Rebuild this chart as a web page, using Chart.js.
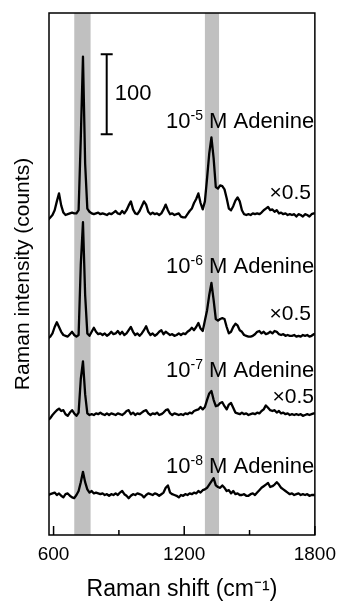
<!DOCTYPE html>
<html>
<head>
<meta charset="utf-8">
<script src="https://cdn.jsdelivr.net/npm/chart.js@4.4.0/dist/chart.umd.min.js"></script>
<style>
  html, body { margin: 0; padding: 0; background: #fff; }
</style>
</head>
<body>
<canvas id="ramanChart" width="344" height="603"></canvas>
<script>
const FONT = "'Liberation Sans', Arial, sans-serif";

// sampling of the Raman shift axis (cm-1): 575, 585, ... 1805
const shifts = Array.from({ length: 124 }, (_, i) => 575 + 10 * i);

// intensities above each trace's own baseline (counts, as displayed)
const adenine5 = [
  -8, -5, -2, 4, 15, 25, 10, 1, -2, -1,
  0, 1, 0, 0, 4, 94, 196, 62, 6, 2,
  0, -1, 0, 1, -1, 0, -1, -2, 0, -1,
  1, 3, 0, -1, 3, 0, 4, 10, 15, 5,
  0, -1, 3, 9, 15, 11, 2, -1, 1, -1,
  0, -2, 0, 5, 11, 4, -1, 0, -2, -1,
  0, -4, -5, -5, -1, 3, 6, 13, 18, 25,
  13, 5, 15, 44, 75, 95, 69, 33, 31, 35,
  34, 30, 19, 6, 4, 9, 16, 20, 15, 4,
  -1, -2, -1, -2, 0, -1, 0, -1, 1, 4,
  6, 8, 4, 5, 2, 4, 0, 1, -1, 0,
  -2, -1, -2, -1, -4, -1, -2, -4, -1, -2,
  -4, -1, 0, 0
];
const adenine6 = [
  -4, -2, 2, 10, 16, 10, 4, 0, -1, -2,
  1, 4, 0, -2, 0, 88, 141, 50, 2, -1,
  4, 9, 4, 1, 2, 0, 2, -1, 1, 4,
  1, 2, 5, 1, 4, 0, 2, 6, 10, 4,
  0, 2, -1, 2, 6, 11, 4, 0, 2, -1,
  1, 4, 6, 1, 4, 2, 0, 1, -1, 0,
  2, 0, 2, 1, 4, 6, 9, 6, 10, 15,
  8, 5, 18, 31, 50, 65, 44, 20, 18, 20,
  21, 20, 10, 2, 4, 10, 14, 12, 6, 4,
  0, -1, -2, -2, -1, 1, 4, 5, 2, 4,
  1, 2, 4, 2, 5, 4, 1, 0, 1, -1,
  0, -1, -1, 0, -2, -1, -2, 0, -1, 0,
  -2, -1, 1, 1
];
const adenine7 = [
  -7, -5, -1, 2, 5, 7, 4, 5, 0, -2,
  2, 5, 1, -2, 2, 44, 66, 25, 1, -1,
  0, -1, 1, 0, 2, 0, -1, 1, -1, 1,
  0, -1, 1, 0, -1, 1, 4, 5, 0, 2,
  -1, 1, 0, 2, 4, 5, 1, -1, 1, 0,
  2, -1, 0, 2, 5, 6, 1, -1, 1, 0,
  -1, 0, -1, 1, 0, 2, 1, 4, 5, 6,
  9, 6, 9, 18, 26, 29, 18, 10, 11, 14,
  15, 10, 6, 12, 14, 8, 2, 1, 0, 2,
  0, 1, -1, 0, 1, 0, 2, 1, 4, 6,
  11, 8, 5, 4, 5, 2, 4, 1, 2, 0,
  1, -1, 0, -1, 0, -1, 0, -2, -1, 0,
  -1, 0, 1, 1
];
const adenine8 = [
  -1, 0, 1, 2, -1, 1, -2, -4, 0, 1,
  -2, -4, -5, -1, 4, 15, 28, 15, 6, 2,
  4, 1, 2, 1, 0, 1, -1, 0, -2, 0,
  -1, 1, -1, 2, 4, 0, -2, -5, -2, 0,
  -1, 1, 0, -1, -4, -1, 1, 0, -1, 1,
  0, -2, 0, 2, 8, 11, 2, 0, -1, -2,
  -4, -1, -2, 0, -1, 1, 0, 2, 1, 4,
  2, 5, 6, 8, 12, 16, 20, 11, 9, 8,
  11, 8, 4, 5, 1, 4, 0, 1, -1, -1,
  0, -2, -2, 0, 1, -1, 2, 5, 8, 10,
  12, 14, 9, 10, 12, 15, 12, 8, 6, 4,
  2, 0, 1, -1, 0, 1, -1, 0, -1, 0,
  -2, -1, -1, -1
];

const spectra = [adenine5, adenine6, adenine7, adenine8];
const exponents = ['-5', '-6', '-7', '-8'];
const offsets = [402, 250, 151, 51];          // vertical stacking (counts)
const scaled = [true, true, true, false];     // traces shown at x0.5

const bands = [[695, 770], [1295, 1360]];     // highlighted peak regions (cm-1)
const xTicks = [600, 900, 1200, 1500, 1800];
const xLabels = [600, 1200, 1800];
const scaleBar = { at: 844, from: 501, size: 100 };

// text placement relative to each trace (counts above offset)
const labelRise = [107, 77.5, 46.5, 26.5];
const halfRise = [18, 19, 14];
const halfRight = [1782, 1782, 1796];

const datasets = spectra.map((s, k) => ({
  data: shifts.map((x, i) => ({ x, y: s[i] + offsets[k] })),
  borderColor: '#000',
  borderWidth: 2.3,
  pointRadius: 0,
  tension: 0,
  borderJoinStyle: 'round'
}));

function drawConc(ctx, right, base, exp) {
  const big = '22px ' + FONT, small = '14px ' + FONT;
  ctx.font = big;
  const w1 = ctx.measureText('10').width;
  const w3 = ctx.measureText(' M Adenine').width;
  ctx.font = small;
  const w2 = ctx.measureText(exp).width;
  let x = right - (w1 + w2 + w3);
  ctx.textAlign = 'left';
  ctx.textBaseline = 'alphabetic';
  ctx.font = big;
  ctx.fillText('10', x, base);
  x += w1;
  ctx.font = small;
  ctx.fillText(exp, x, base - 8);
  x += w2;
  ctx.font = big;
  ctx.fillText(' M Adenine', x, base);
}

const decor = {
  id: 'decor',
  beforeDatasetsDraw(chart) {
    const { ctx, chartArea: a, scales: { x } } = chart;
    ctx.save();
    ctx.fillStyle = '#c0c0c0';
    bands.forEach(([b0, b1]) => {
      const x0 = x.getPixelForValue(b0), x1 = x.getPixelForValue(b1);
      ctx.fillRect(x0, a.top, x1 - x0, a.bottom - a.top);
    });
    ctx.restore();
  },
  afterDatasetsDraw(chart) {
    const { ctx, chartArea: a, scales: { x, y } } = chart;
    ctx.save();
    ctx.strokeStyle = '#000';
    ctx.fillStyle = '#000';
    ctx.lineWidth = 1.5;
    ctx.strokeRect(a.left, a.top, a.right - a.left, a.bottom - a.top);

    // ticks point into the plot
    xTicks.forEach(v => {
      const px = x.getPixelForValue(v);
      const len = xLabels.includes(v) ? 9 : 5;
      ctx.beginPath();
      ctx.moveTo(px, a.bottom);
      ctx.lineTo(px, a.bottom - len);
      ctx.stroke();
    });

    // 100 counts scale bar
    const bx = x.getPixelForValue(scaleBar.at);
    const by0 = y.getPixelForValue(scaleBar.from);
    const by1 = y.getPixelForValue(scaleBar.from + scaleBar.size);
    ctx.lineWidth = 2;
    ctx.beginPath();
    ctx.moveTo(bx, by0); ctx.lineTo(bx, by1);
    ctx.moveTo(bx - 6, by0); ctx.lineTo(bx + 6, by0);
    ctx.moveTo(bx - 6, by1); ctx.lineTo(bx + 6, by1);
    ctx.stroke();
    ctx.font = '22px ' + FONT;
    ctx.textAlign = 'left';
    ctx.textBaseline = 'alphabetic';
    ctx.fillText(String(scaleBar.size), bx + 8, by0 - 34);

    // concentration labels and scale factors
    offsets.forEach((off, k) => {
      drawConc(ctx, x.getPixelForValue(1797), y.getPixelForValue(off + labelRise[k]), exponents[k]);
      if (scaled[k]) {
        ctx.font = '21px ' + FONT;
        ctx.textAlign = 'right';
        ctx.fillText('\u00d70.5', x.getPixelForValue(halfRight[k]), y.getPixelForValue(off + halfRise[k]));
      }
    });
    ctx.restore();
  }
};

new Chart(document.getElementById('ramanChart'), {
  type: 'line',
  data: { datasets },
  options: {
    responsive: false,
    devicePixelRatio: 1,
    animation: false,
    layout: { padding: { top: 13, right: 25, left: 0, bottom: 0 } },
    plugins: { legend: { display: false }, tooltip: { enabled: false } },
    scales: {
      x: {
        type: 'linear',
        min: 579,
        max: 1800,
        afterBuildTicks: s => { s.ticks = xTicks.map(v => ({ value: v })); },
        afterFit: s => { s.height = 68; },
        grid: { display: false, drawTicks: false },
        border: { display: false },
        ticks: {
          autoSkip: false,
          maxRotation: 0,
          padding: 8,
          color: '#000',
          font: { size: 19, family: FONT },
          callback: v => xLabels.includes(v) ? String(v) : ''
        },
        title: {
          display: true,
          text: 'Raman shift (cm\u207b\u00b9)',
          color: '#000',
          font: { size: 23, family: FONT },
          padding: { top: 0, bottom: 0 }
        }
      },
      y: {
        min: 0,
        max: 652.5,
        afterFit: s => { s.width = 49; },
        grid: { display: false, drawTicks: false },
        border: { display: false },
        ticks: { display: false },
        title: {
          display: true,
          text: 'Raman intensity (counts)',
          color: '#000',
          font: { size: 21, family: FONT },
          padding: { top: 11, bottom: 0 }
        }
      }
    }
  },
  plugins: [decor]
});
</script>
</body>
</html>
